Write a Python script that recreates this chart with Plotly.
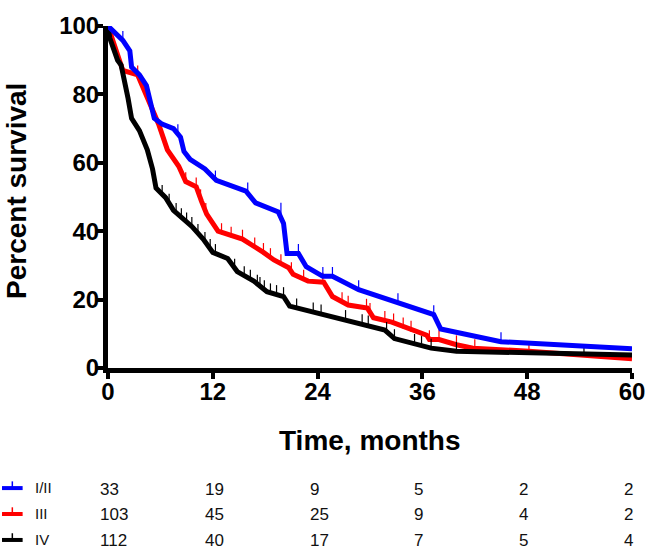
import plotly.graph_objects as go

# ---- data ----
groups = ["I/II", "III", "IV"]
colors = ["#0000FF", "#FF0000", "#000000"]

t_blue = [0, 1.7, 2.5, 2.7, 3.6, 4.4, 5.3, 6.2, 7.5, 8.3, 8.7, 9.4, 11.1, 12.4, 15.8, 16.9,
          19.5, 20.1, 20.5, 21.8, 22.7, 24.6, 25.7, 28.7, 37.3, 38.1, 45, 60]
s_blue = [100, 95.8, 92.7, 88, 85.7, 82.6, 73, 71.3, 70, 67.5, 63.3, 61, 58.2, 54.9, 51.7, 48.3,
          45.6, 42.3, 33.5, 33.5, 29.6, 26.8, 26.8, 22.9, 15.6, 11.4, 7.7, 5.6]

t_red = [0, 1.1, 1.7, 3.4, 5.1, 5.8, 6.8, 8.1, 8.9, 10.1, 10.7, 11.3, 12.6, 14.1, 15.4, 17.8,
         19.0, 20.7, 21.2, 22.9, 24.7, 25.7, 27.5, 29.7, 30.4, 32.5, 34.7, 36.5, 36.8, 37.9,
         39.9, 41.8, 48.2, 60]
s_red = [100, 91, 87, 85.7, 76, 71.3, 63.8, 59, 54.5, 53, 48.8, 45, 40, 38.6, 37.7, 33.8,
         31.6, 29.3, 27.4, 25.4, 25.1, 20.9, 18.4, 17.5, 14.7, 13.4, 11.1, 9.6, 8.3, 8.3,
         6.8, 5.8, 4.9, 2.7]

t_black = [0, 0.2, 1.1, 1.5, 2.3, 2.7, 3.6, 4.5, 5.1, 5.5, 6.6, 7.5, 9.6, 10.9, 12.0, 13.7,
           14.8, 16.7, 18.2, 20.1, 20.8, 22.5, 24.7, 27.2, 29.5, 31.7, 32.8, 35.1, 37.0, 39.9, 60]
s_black = [100, 96.5, 90, 88.6, 78.8, 73, 69.4, 63.8, 58.2, 52.6, 49.8, 46.1, 41.4, 37.7, 33.8, 32,
           28.2, 25.4, 22.3, 20.9, 18.1, 17, 15.6, 14.2, 12.8, 11.1, 8.6, 7.2, 5.8, 4.9, 3.8]

# censored observations (time, survival)
ct_blue = [1.7, 8.0, 12.3, 16.0, 19.8, 21.8, 24.6, 25.7, 28.7, 33.2, 37.3, 45.0]
cs_blue = [95.8, 68.5, 55, 51.5, 45.6, 33.5, 26.8, 26.8, 22.9, 19.1, 15.6, 7.7]

ct_red = [3.4, 4.4, 8.9, 10.1, 10.6, 11.2, 13.0, 14.1, 15.4, 16.8, 17.8, 18.6, 19.8, 21.0, 22.4,
          24.6, 26.8, 27.5, 29.6, 30.0, 31.7, 32.7, 33.8, 34.7, 36.8, 37.9, 39.9, 42.0, 48.2]
cs_red = [85.7, 80, 54.5, 53, 49.5, 45.5, 39.6, 38.6, 37.7, 35.4, 33.8, 32.3, 30.5, 28.2, 26,
          25.1, 19.4, 18.4, 17.5, 16.3, 13.9, 13.2, 12, 11.1, 8.3, 8.3, 6.8, 5.7, 4.9]

ct_black = [6.2, 7.0, 7.8, 8.4, 9.0, 9.6, 10.3, 11.1, 11.7, 12.3, 14.5, 15.6, 16.3, 17.1, 17.4,
            17.9, 18.6, 19.3, 20.1, 21.6, 23.5, 24.4, 27.2, 29.1, 29.8, 31.9, 32.8, 35.1, 35.9,
            37.0, 39.9, 54.5]
cs_black = [50.8, 48.2, 45.5, 44, 42.7, 41.4, 39.4, 37, 35, 33.5, 29.2, 27, 26, 24.5, 23.9,
            22.9, 22, 21.5, 20.9, 17.6, 16.4, 15.8, 14.2, 13, 12.6, 10.7, 8.6, 7.2, 6.6,
            5.8, 4.9, 4.2]

x_ticks = [0, 12, 24, 36, 48, 60]
y_ticks = [0, 20, 40, 60, 80, 100]
at_risk_blue = [33, 19, 9, 5, 2, 2]
at_risk_red = [103, 45, 25, 9, 4, 2]
at_risk_black = [112, 40, 17, 7, 5, 4]

curves = {
    "I/II": (t_blue, s_blue, ct_blue, cs_blue, at_risk_blue, colors[0]),
    "III": (t_red, s_red, ct_red, cs_red, at_risk_red, colors[1]),
    "IV": (t_black, s_black, ct_black, cs_black, at_risk_black, colors[2]),
}

FONT = "Liberation Sans, Arial, sans-serif"
W, H = 657, 558
L, R, T, B = 108, 15, 12, 190
pw, ph = W - L - R, H - T - B


def px_x(px):
    return (px - L) / pw


def px_y(py):
    return (H - B - py) / ph


fig = go.Figure()

for name in ["III", "IV", "I/II"]:
    t, s, ct, cs, _, col = curves[name]
    fig.add_trace(go.Scatter(x=t, y=s, mode="lines", line=dict(color=col, width=5),
                             showlegend=False, hoverinfo="skip"))
    fig.add_trace(go.Scatter(x=ct, y=[v + 1.1 for v in cs], mode="markers",
                             marker=dict(symbol="line-ns", size=8,
                                         line=dict(color=col, width=1.2)),
                             showlegend=False, cliponaxis=False, hoverinfo="skip"))

annotations = []
shapes = []
row_y = [494, 521, 548]
for i, name in enumerate(groups):
    _, _, _, _, risk, col = curves[name]
    yc = px_y(row_y[i])
    for xv, n in zip(x_ticks, risk):
        annotations.append(dict(x=xv, y=yc, xref="x", yref="paper", text=str(n),
                                showarrow=False, xanchor="left", yanchor="middle",
                                xshift=-10, font=dict(family=FONT, size=17, color="#111")))
    # legend glyph
    ly = px_y(row_y[i] - 1)
    shapes.append(dict(type="line", xref="paper", yref="paper",
                       x0=px_x(0), x1=px_x(21), y0=ly, y1=ly,
                       line=dict(color=col, width=4)))
    shapes.append(dict(type="line", xref="paper", yref="paper",
                       x0=px_x(10.5), x1=px_x(10.5), y0=ly, y1=px_y(row_y[i] - 8),
                       line=dict(color=col, width=1.5)))
    annotations.append(dict(x=px_x(32), y=px_y(row_y[i] - 2), xref="paper", yref="paper",
                            text=name, showarrow=False, xanchor="left", yanchor="middle",
                            font=dict(family=FONT, size=15, color="#111")))

annotations.append(dict(x=px_x(375), y=px_y(443), xref="paper", yref="paper",
                        text="Time, months", showarrow=False, xanchor="center",
                        yanchor="middle",
                        font=dict(family=FONT, size=28, color="black", weight="bold")))
annotations.append(dict(x=px_x(14), y=px_y(184), xref="paper", yref="paper",
                        text="Percent survival", showarrow=False, textangle=-90,
                        xanchor="center", yanchor="middle",
                        font=dict(family=FONT, size=28, color="black", weight="bold")))

fig.update_layout(
    width=W, height=H,
    margin=dict(l=L, r=R, t=T, b=B, pad=0),
    plot_bgcolor="white", paper_bgcolor="white",
    showlegend=False,
    annotations=annotations, shapes=shapes,
    xaxis=dict(range=[0, 60], tickvals=x_ticks, showgrid=False, zeroline=False,
               showline=True, linecolor="black", linewidth=5,
               ticks="outside", ticklen=6, tickwidth=4, tickcolor="black",
               ticklabelstandoff=-8, ticklabeloverflow="allow",
               tickfont=dict(family=FONT, size=24, color="black", weight="bold")),
    yaxis=dict(range=[0, 100], tickvals=y_ticks, showgrid=False, zeroline=False,
               showline=True, linecolor="black", linewidth=5,
               ticks="outside", ticklen=6, tickwidth=4, tickcolor="black",
               ticklabelstandoff=-7, ticklabeloverflow="allow",
               tickfont=dict(family=FONT, size=24, color="black", weight="bold")),
)

fig.write_html("out.html", config={"displayModeBar": False},
               post_script="document.body.style.margin='0';document.body.style.padding='0';")
